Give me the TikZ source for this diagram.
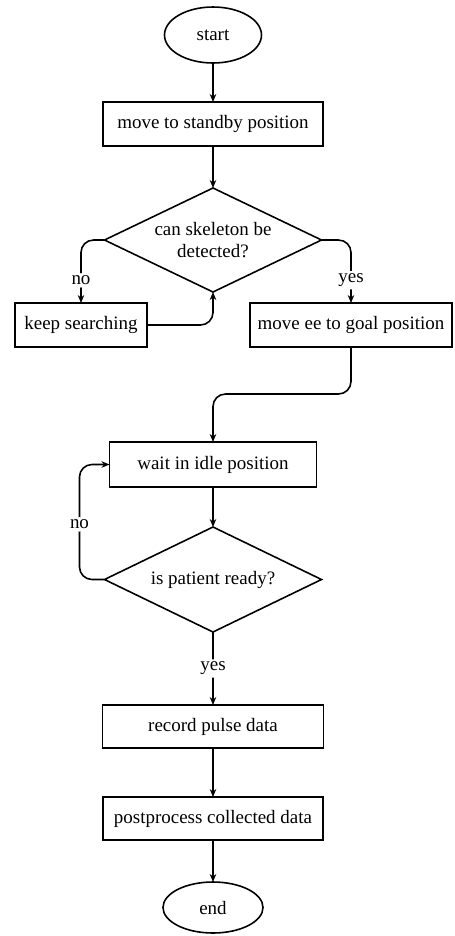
\documentclass[tikz,border=0pt]{standalone}
\usepackage{fontspec}
\setmainfont{Liberation Serif}
\usetikzlibrary{positioning, arrows.meta, shapes.geometric}

\begin{document}
\begin{tikzpicture}[
    node distance=8mm and 5mm, % default vertical and horizontal node distance
    font=\fontsize{10.8}{13}\selectfont,
    line width=0.9pt,
    stepbox/.style={draw, rectangle, minimum height=8.8mm, inner sep=2pt, outer sep=0pt},
    endbox/.style={draw, ellipse, minimum width=19.4mm, minimum height=11.2mm, inner sep=1pt, outer sep=0pt},
    decision/.style={draw, diamond, aspect=2.1, minimum width=43.4mm, minimum height=20.8mm, inner sep=0pt, outer sep=0pt, align=center},
    flow/.style={-{Stealth[length=1.6mm, width=1.3mm]}, rounded corners=2.5mm},
    answer/.style={fill=white, inner sep=1.5pt}
]
\useasboundingbox (-42.6mm,7mm) rectangle (48.4mm,-180.2mm);

% Start and first step
\node (start) [endbox] {start};
\node (standby) [stepbox, minimum width=44mm, below=7.8mm of start] {move to standby position};

% Skeleton detection
\node (detect) [decision, below=8.4mm of standby] {can skeleton be\\ detected?};
\node (search) [stepbox, minimum width=26.4mm, below=2.2mm of detect.south, xshift=-26.4mm] {keep searching};
\node (goal) [stepbox, minimum width=40.4mm, below=2.2mm of detect.south, xshift=27.6mm] {move ee to goal position};

% Waiting for the patient
\node (idle) [stepbox, minimum width=41.4mm, minimum height=9mm, below=30mm of detect] {wait in idle position};
\node (ready) [decision, minimum height=21mm, below=8mm of idle] {is patient ready?};

% Measurement
\node (record) [stepbox, minimum width=44.2mm, minimum height=8.6mm, below=14.6mm of ready] {record pulse data};
\node (post) [stepbox, minimum width=44mm, minimum height=8.6mm, below=9.8mm of record] {postprocess collected data};
\node (end) [endbox, minimum width=20mm, minimum height=10.2mm, below=8.4mm of post] {end};

% Arrows
\draw[flow] (start) -- (standby);
\draw[flow] (standby) -- (detect);
\draw[flow] (detect.west) -| node[answer, pos=0.82] {no} (search.north);
\draw[flow] (detect.east) -| node[answer, pos=0.82] {yes} (goal.north);
\draw[flow] (search.east) -| (detect.south);
\draw[flow] (goal.south) -- ++(0,-9.4mm) -| (idle.north);
\draw[flow] (idle) -- (ready);
\draw[flow] (ready.west) -- ++(-5mm,0) |- node[answer, pos=0.24] {no} (idle.west);
\draw[flow] (ready) -- node[answer] {yes} (record);
\draw[flow] (record) -- (post);
\draw[flow] (post) -- (end);

\end{tikzpicture}
\end{document}
